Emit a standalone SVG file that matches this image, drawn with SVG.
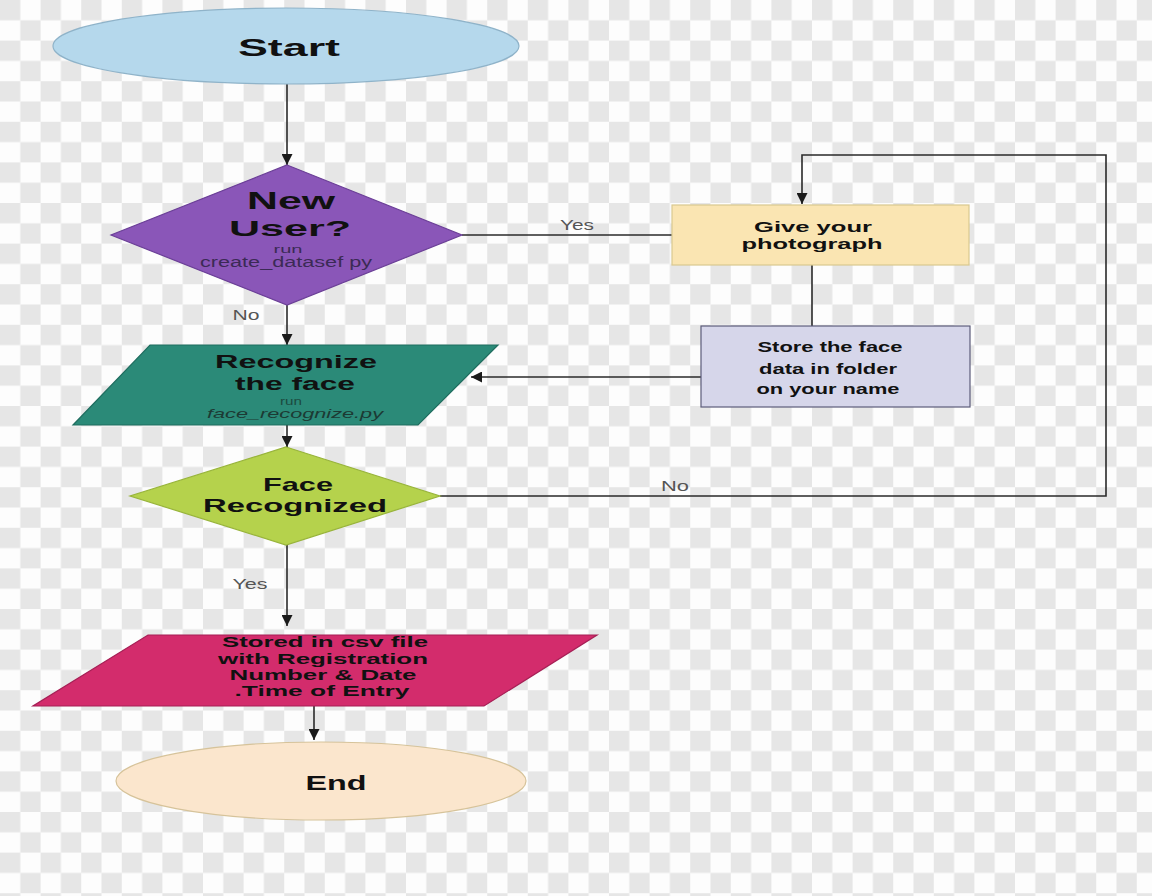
<svg xmlns="http://www.w3.org/2000/svg" width="1152" height="896" viewBox="0 0 1152 896">
  <defs>
    <!-- transparency-style checkerboard backdrop -->
    <pattern id="checker" x="0" y="0" width="40.6" height="40.6" patternUnits="userSpaceOnUse">
      <rect width="40.6" height="40.6" fill="#fdfdfd"/>
      <rect x="0" y="0" width="20.3" height="20.3" fill="#e6e6e6"/>
      <rect x="20.3" y="20.3" width="20.3" height="20.3" fill="#e6e6e6"/>
    </pattern>
    <marker id="arrow" viewBox="0 0 10 10" refX="10" refY="5" markerWidth="11" markerHeight="11" markerUnits="userSpaceOnUse" orient="auto">
      <path d="M0,0 L10,5 L0,10 Z" fill="#1a1a1a"/>
    </marker>
    <style>
      .title { font-family: "Liberation Sans", Arial, sans-serif; font-weight: bold; fill: #111; text-anchor: middle; }
      .sub { font-family: "Liberation Sans", Arial, sans-serif; text-anchor: middle; }
      .lbl { font-family: "Liberation Sans", Arial, sans-serif; font-size: 14px; fill: #555; text-anchor: middle; }
      .conn { fill: none; stroke: #2a2a2a; stroke-width: 1.6; }
    </style>
  </defs>

  <rect width="1152" height="896" fill="url(#checker)"/>

  <!-- connectors -->
  <g id="connectors">
    <path class="conn" d="M287 84 V165" marker-end="url(#arrow)"/>
    <path class="conn" d="M287 305 V345" marker-end="url(#arrow)"/>
    <path class="conn" d="M462 235 H672"/>
    <path class="conn" d="M812 265 V326"/>
    <path class="conn" d="M701 377 H471" marker-end="url(#arrow)"/>
    <path class="conn" d="M287 425 V447" marker-end="url(#arrow)"/>
    <path class="conn" d="M440 496 H1106 V155 H802 V204" marker-end="url(#arrow)"/>
    <path class="conn" d="M287 545 V626" marker-end="url(#arrow)"/>
    <path class="conn" d="M314 706 V740" marker-end="url(#arrow)"/>
    <text class="lbl" x="577" y="230" textLength="34" lengthAdjust="spacingAndGlyphs">Yes</text>
    <text class="lbl" x="246" y="320" textLength="27" lengthAdjust="spacingAndGlyphs">No</text>
    <text class="lbl" x="675" y="491" textLength="28" lengthAdjust="spacingAndGlyphs">No</text>
    <text class="lbl" x="250" y="589" textLength="35" lengthAdjust="spacingAndGlyphs">Yes</text>
  </g>

  <g id="start">
    <ellipse cx="286" cy="46" rx="233" ry="38" fill="#b5d8ec" stroke="#8fb3c9" stroke-width="1.2"/>
    <text class="title" x="289" y="56" font-size="24" textLength="102" lengthAdjust="spacingAndGlyphs">Start</text>
  </g>

  <g id="new-user">
    <polygon points="287,165 462,235 287,305 111,235" fill="#8a56b8" stroke="#6b3f97" stroke-width="1.2"/>
    <text class="title" x="291" y="209" font-size="23" textLength="88" lengthAdjust="spacingAndGlyphs">New</text>
    <text class="title" x="290" y="236" font-size="22" textLength="122" lengthAdjust="spacingAndGlyphs">User?</text>
    <text class="sub" x="288" y="253" font-size="11" fill="#3b2a55" textLength="29" lengthAdjust="spacingAndGlyphs">run</text>
    <text class="sub" x="286" y="267" font-size="14" fill="#3b2a55" textLength="172" lengthAdjust="spacingAndGlyphs">create_datasef py</text>
  </g>

  <g id="recognize">
    <polygon points="150,345 498,345 418,425 73,425" fill="#2b8a78" stroke="#1f6d5f" stroke-width="1.2"/>
    <text class="title" x="296" y="368" font-size="19" textLength="162" lengthAdjust="spacingAndGlyphs">Recognize</text>
    <text class="title" x="295" y="390" font-size="18" textLength="120" lengthAdjust="spacingAndGlyphs">the face</text>
    <text class="sub" x="291" y="405" font-size="10.5" fill="#1c4a40" textLength="22" lengthAdjust="spacingAndGlyphs">run</text>
    <text class="sub" x="295" y="418" font-size="13" font-style="italic" fill="#1c3a34" textLength="176" lengthAdjust="spacingAndGlyphs">face_recognize.py</text>
  </g>

  <g id="face-recognized">
    <polygon points="286,447 440,496 286,545 130,496" fill="#b5d24c" stroke="#98b43b" stroke-width="1.2"/>
    <text class="title" x="298" y="491" font-size="19" textLength="70" lengthAdjust="spacingAndGlyphs">Face</text>
    <text class="title" x="295" y="512" font-size="19" textLength="184" lengthAdjust="spacingAndGlyphs">Recognized</text>
  </g>

  <g id="stored-csv">
    <polygon points="148,635 597,635 484,706 33,706" fill="#d32c6c" stroke="#a61f55" stroke-width="1.2"/>
    <text class="title" x="325" y="647" font-size="15" fill="#3a1022" textLength="206" lengthAdjust="spacingAndGlyphs">Stored in csv file</text>
    <text class="title" x="323" y="664" font-size="15" fill="#3a1022" textLength="210" lengthAdjust="spacingAndGlyphs">with Registration</text>
    <text class="title" x="323" y="680" font-size="15" fill="#3a1022" textLength="187" lengthAdjust="spacingAndGlyphs">Number &amp; Date</text>
    <text class="title" x="322" y="696" font-size="15" fill="#3a1022" textLength="175" lengthAdjust="spacingAndGlyphs">.Time of Entry</text>
  </g>

  <g id="give-photo">
    <rect x="672" y="205" width="297" height="60" fill="#fae5b2" stroke="#d9c88f" stroke-width="1.2"/>
    <text class="title" x="813" y="232" font-size="15" fill="#222" textLength="118" lengthAdjust="spacingAndGlyphs">Give your</text>
    <text class="title" x="812" y="249" font-size="15" fill="#222" textLength="141" lengthAdjust="spacingAndGlyphs">photograph</text>
  </g>

  <g id="store-face">
    <rect x="701" y="326" width="269" height="81" fill="#d6d6ea" stroke="#5c5c7a" stroke-width="1.2"/>
    <text class="title" x="830" y="352" font-size="14" fill="#222" textLength="145" lengthAdjust="spacingAndGlyphs">Store the face</text>
    <text class="title" x="828" y="374" font-size="14" fill="#222" textLength="138" lengthAdjust="spacingAndGlyphs">data in folder</text>
    <text class="title" x="828" y="394" font-size="14" fill="#222" textLength="143" lengthAdjust="spacingAndGlyphs">on your name</text>
  </g>

  <g id="end">
    <ellipse cx="321" cy="781" rx="205" ry="39" fill="#fbe6cd" stroke="#d6c39a" stroke-width="1.2"/>
    <text class="title" x="336" y="790" font-size="20" textLength="61" lengthAdjust="spacingAndGlyphs">End</text>
  </g>
</svg>
